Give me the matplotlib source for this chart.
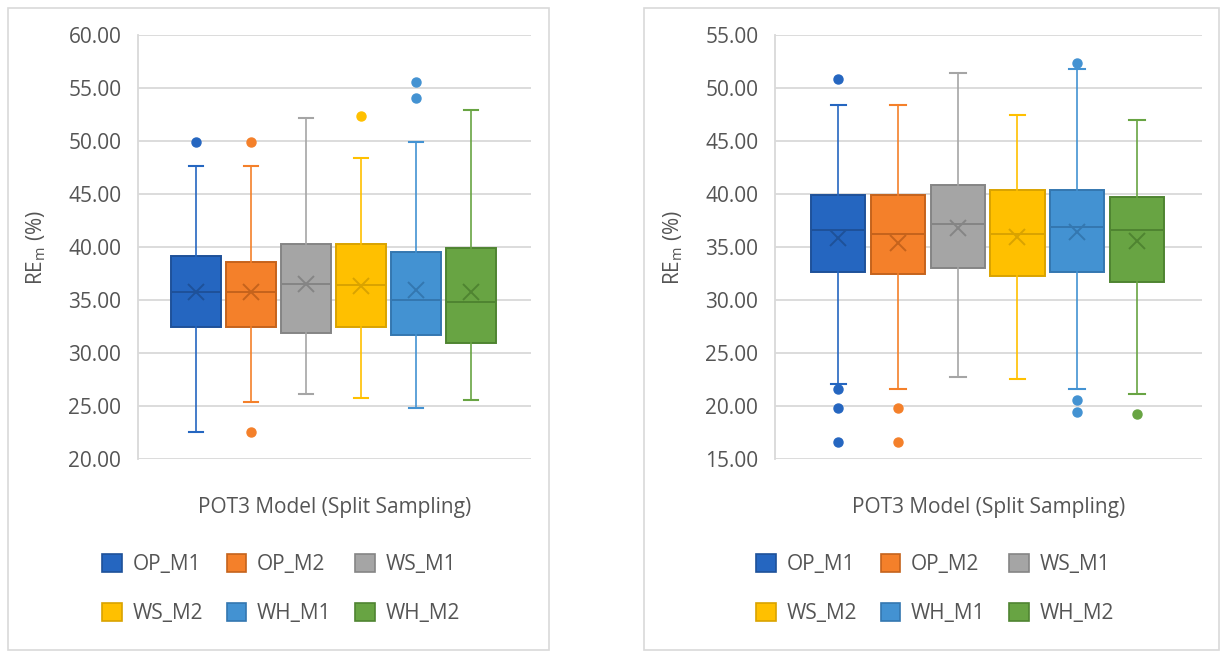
import matplotlib
matplotlib.use("Agg")
import matplotlib.pyplot as plt
from matplotlib.patches import Patch, Rectangle

plt.rcParams['font.family'] = ['Open Sans', 'DejaVu Sans']
plt.rcParams['mathtext.fontset'] = 'custom'
plt.rcParams['mathtext.rm'] = 'Open Sans'
plt.rcParams['mathtext.it'] = 'Open Sans'

# ---------------- data ----------------
categories = ['OP_M1', 'OP_M2', 'WS_M1', 'WS_M2', 'WH_M1', 'WH_M2']

left_q1 = [32.44, 32.44, 31.87, 32.44, 31.68, 30.96]
left_q3 = [39.13, 38.57, 40.26, 40.26, 39.51, 39.88]
left_med = [35.80, 35.80, 36.52, 36.37, 35.01, 34.82]
left_mean = [35.78, 35.75, 36.50, 36.35, 35.96, 35.80]
left_lo = [22.57, 25.36, 26.09, 25.74, 24.80, 25.55]
left_hi = [47.68, 47.68, 52.14, 48.43, 49.95, 52.93]
left_fliers = [[49.95], [49.95, 22.57], [], [52.33], [55.54, 54.03], []]

right_q1 = [32.62, 32.43, 33.03, 32.24, 32.62, 31.68]
right_q3 = [39.91, 39.91, 40.83, 40.42, 40.42, 39.73]
right_med = [36.58, 36.20, 37.15, 36.20, 36.93, 36.58]
right_mean = [35.83, 35.42, 36.77, 35.98, 36.39, 35.61]
right_lo = [22.06, 21.62, 22.75, 22.56, 21.62, 21.09]
right_hi = [48.43, 48.43, 51.45, 47.49, 51.79, 46.99]
right_fliers = [[50.88, 21.62, 19.80, 16.62], [19.80, 16.62], [], [],
                [52.39, 20.55, 19.42], [19.20]]

left_ticks = [20, 25, 30, 35, 40, 45, 50, 55, 60]
right_ticks = [15, 20, 25, 30, 35, 40, 45, 50, 55]

x_label = 'POT3 Model (Split Sampling)'
y_label = r'RE$_{\mathrm{m}}$ (%)'

# ---------------- style ----------------
fills = ['#2566C0', '#F4802A', '#A5A5A5', '#FFC000', '#4392D2', '#68A443']
edges = ['#1E5199', '#C5631C', '#858585', '#D9A300', '#3477B0', '#4F8431']
text_color = '#555555'
grid_color = '#D9D9D9'
FS = 15

W, H = 1224, 657
fig = plt.figure(figsize=(W / 100, H / 100), dpi=100)


def fx(px):
    return px / W


def fy(py):
    return 1 - py / H


# panel borders
for x0, x1 in [(8, 549), (644, 1219)]:
    fig.patches.append(Rectangle((fx(x0), fy(650)), fx(x1) - fx(x0), fy(8) - fy(650),
                                 transform=fig.transFigure, fill=False,
                                 edgecolor=grid_color, linewidth=1.2))


def draw_panel(ax_rect, q1, q3, med, mean, lo, hi, fliers, ticks, ylab_x, leg_cx):
    ax = fig.add_axes(ax_rect)
    stats = []
    for i in range(len(categories)):
        stats.append(dict(q1=q1[i], q3=q3[i], med=med[i], mean=mean[i],
                          whislo=lo[i], whishi=hi[i], fliers=fliers[i],
                          label=categories[i]))
    for i, st in enumerate(stats):
        ax.bxp([st], positions=[i], widths=0.91, patch_artist=True,
               showmeans=True, showfliers=True,
               boxprops=dict(facecolor=fills[i], edgecolor=edges[i], linewidth=1.4),
               medianprops=dict(color=edges[i], linewidth=1.4),
               whiskerprops=dict(color=fills[i], linewidth=1.2),
               capprops=dict(color=fills[i], linewidth=1.5),
               capwidths=0.26,
               meanprops=dict(marker='x', markeredgecolor=edges[i],
                              markersize=12, markeredgewidth=1.4),
               flierprops=dict(marker='o', markerfacecolor=fills[i],
                               markeredgecolor=fills[i], markersize=6.5),
               zorder=3)
    ax.set_xlim(-1.06, 6.09)
    ax.set_ylim(ticks[0], ticks[-1])
    ax.set_yticks(ticks)
    ax.set_yticklabels([f'{t:.2f}' for t in ticks])
    ax.set_xticks([])
    ax.tick_params(axis='y', length=0, pad=12, labelsize=FS, labelcolor=text_color)
    ax.grid(axis='y', color=grid_color, linewidth=1.3, zorder=0)
    ax.set_axisbelow(True)
    for s in ['top', 'right', 'bottom']:
        ax.spines[s].set_visible(False)
    ax.spines['left'].set_color(grid_color)
    ax.spines['left'].set_linewidth(1.3)
    ax.set_facecolor('none')

    # axis titles
    bb = ax_rect
    xc = bb[0] + bb[2] / 2
    fig.text(xc, fy(508), x_label, ha='center', va='center',
             fontsize=FS, color=text_color)
    fig.text(fx(ylab_x), fy(247), y_label, ha='center', va='center',
             rotation=90, fontsize=FS, color=text_color)

    handles = [Patch(facecolor=fills[i], edgecolor=edges[i], linewidth=1.2,
                     label=categories[i]) for i in range(len(categories))]
    # legend fills column-wise; reorder so rows read OP_M1, OP_M2, WS_M1 / ...
    order = [0, 3, 1, 4, 2, 5]
    handles = [handles[k] for k in order]
    fig.legend(handles=handles, loc='center', bbox_to_anchor=(fx(leg_cx), fy(589)),
               ncol=3, frameon=False, fontsize=FS, labelcolor=text_color,
               handlelength=0.95, handleheight=0.95, handletextpad=0.5,
               columnspacing=1.15, labelspacing=1.3)
    return ax


ax1 = draw_panel([fx(138), fy(459), fx(531) - fx(138), fy(35) - fy(459)],
                 left_q1, left_q3, left_med, left_mean, left_lo, left_hi,
                 left_fliers, left_ticks, 36, 281)
ax2 = draw_panel([fx(775), fy(459), fx(1202) - fx(775), fy(35) - fy(459)],
                 right_q1, right_q3, right_med, right_mean, right_lo, right_hi,
                 right_fliers, right_ticks, 673, 935)

fig.savefig('out.png', dpi=100)
